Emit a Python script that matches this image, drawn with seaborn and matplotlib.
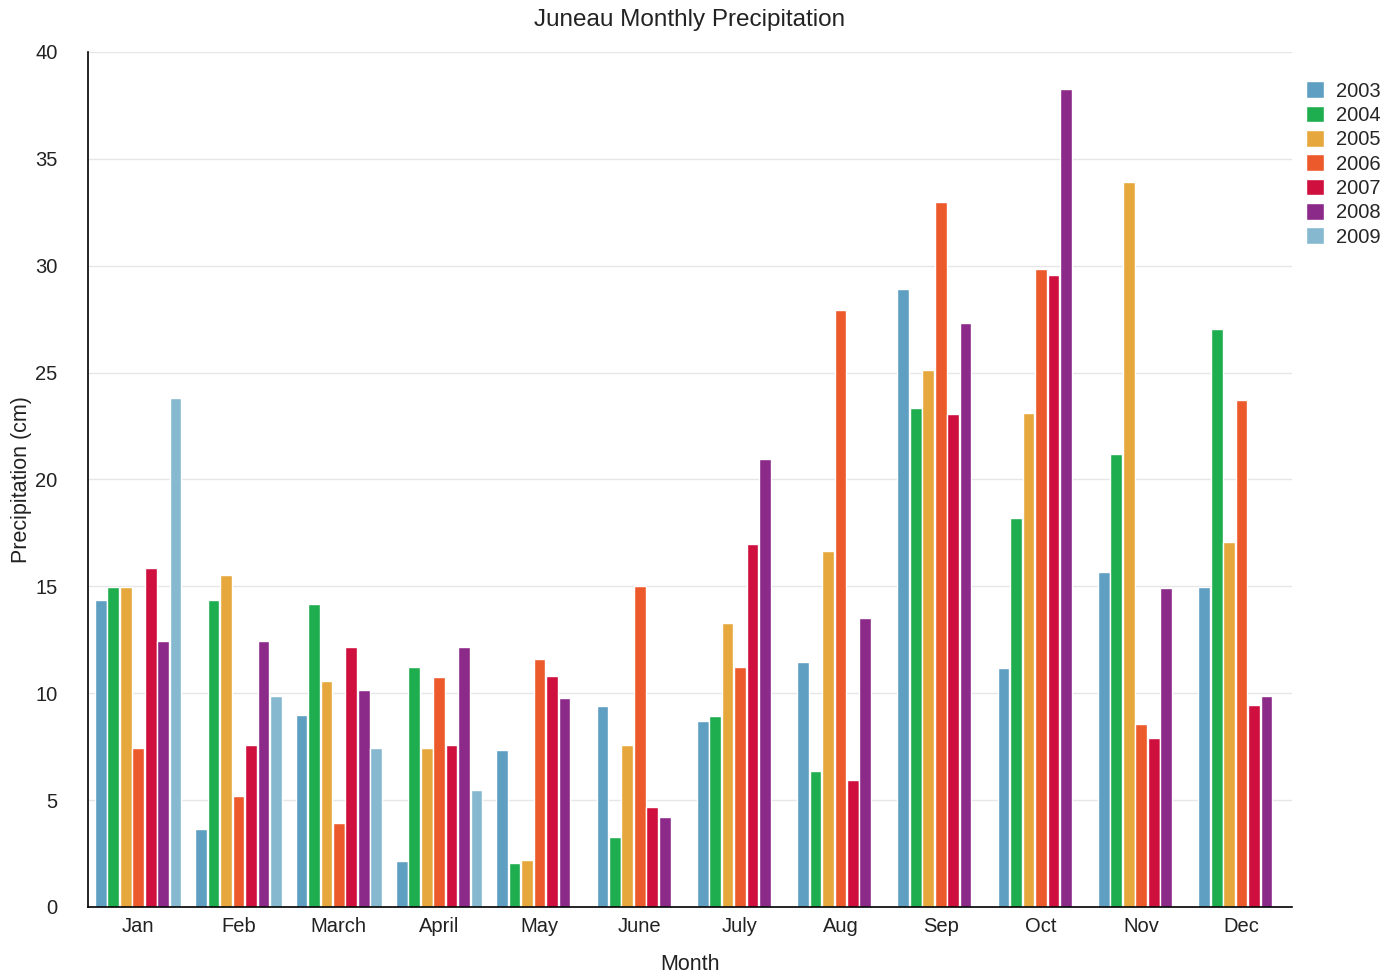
import pandas as pd
import numpy as np
import matplotlib
matplotlib.use('Agg')
import matplotlib.pyplot as plt
import seaborn as sns

months = ['Jan', 'Feb', 'March', 'April', 'May', 'June', 'July', 'Aug', 'Sep', 'Oct', 'Nov', 'Dec']
years = ['2003', '2004', '2005', '2006', '2007', '2008', '2009']

p2003 = [14.35, 3.65, 9.0, 2.15, 7.35, 9.42, 8.72, 11.44, 28.9, 11.16, 15.68, 14.95]
p2004 = [14.95, 14.35, 14.16, 11.24, 2.08, 3.28, 8.94, 6.34, 23.33, 18.19, 21.2, 27.04]
p2005 = [14.95, 15.52, 10.58, 7.42, 2.22, 7.6, 13.3, 16.66, 25.11, 23.1, 33.92, 17.06]
p2006 = [7.42, 5.21, 3.94, 10.74, 11.58, 15.0, 11.22, 27.93, 32.97, 29.83, 8.55, 23.7]
p2007 = [15.85, 7.58, 12.18, 7.58, 10.8, 4.66, 17.0, 5.92, 23.06, 29.55, 7.9, 9.46]
p2008 = [12.44, 12.44, 10.16, 12.18, 9.78, 4.2, 20.95, 13.5, 27.32, 38.28, 14.93, 9.88]
p2009 = [23.8, 9.87, 7.42, 5.48, np.nan, np.nan, np.nan, np.nan, np.nan, np.nan, np.nan, np.nan]

colors = ['#5f9fc2', '#1fae4f', '#e6a83c', '#ec5a2c', '#cf0f3d', '#8c2a8a', '#86b9cf']

series = [p2003, p2004, p2005, p2006, p2007, p2008, p2009]
rows = []
for y, vals in zip(years, series):
    for m, v in zip(months, vals):
        rows.append({'Month': m, 'Year': y, 'Precip': v})
df = pd.DataFrame(rows)

sns.set_style('white')
plt.rcParams['font.family'] = ['Liberation Sans', 'DejaVu Sans']

fig = plt.figure(figsize=(13.98, 9.8), dpi=100)
ax = fig.add_axes([0.063, 0.0745, 0.861, 0.8725])

sns.barplot(data=df, x='Month', y='Precip', hue='Year', order=months, hue_order=years,
            palette=colors, width=0.87, gap=0.06, saturation=1, ax=ax, errorbar=None)

ax.set_ylim(0, 40)
ax.set_yticks(range(0, 41, 5))
ax.yaxis.grid(True, color='#e6e6e6', linewidth=1)
ax.set_axisbelow(True)
for s in ['top', 'right']:
    ax.spines[s].set_visible(False)
ax.spines['left'].set_color('black')
ax.spines['bottom'].set_color('black')
ax.spines['left'].set_linewidth(1.2)
ax.spines['bottom'].set_linewidth(1.2)
ax.tick_params(axis='x', length=0, labelsize=14.5, colors='#222222', pad=7)
ax.tick_params(axis='y', length=0, labelsize=14.5, colors='#222222', pad=22)

ax.set_title('Juneau Monthly Precipitation', fontsize=17.5, color='#222222', pad=19)
ax.set_xlabel('Month', fontsize=15.5, color='#222222', labelpad=13)
ax.set_ylabel('Precipitation (cm)', fontsize=15.5, color='#222222', labelpad=2)

ax.legend(loc='upper left', bbox_to_anchor=(1.005, 0.975), frameon=False, fontsize=14.5,
          handlelength=0.9, handleheight=0.9, handletextpad=0.6, labelspacing=0.25,
          borderaxespad=0)

fig.savefig('out.png', dpi=100)
